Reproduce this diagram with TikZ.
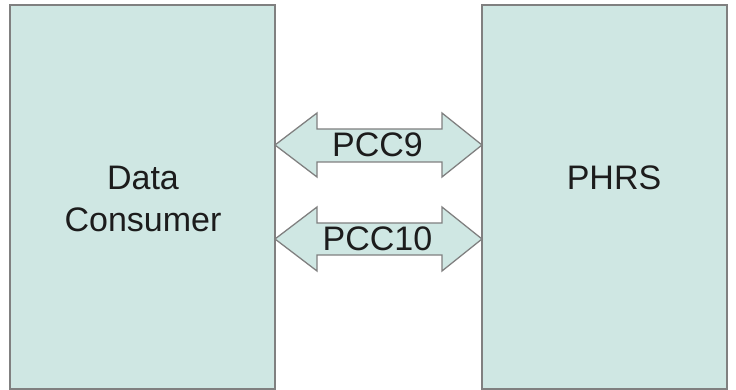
\documentclass[tikz,border=0pt]{standalone}
\usepackage{fontspec}
\setmainfont{Liberation Sans}
\definecolor{boxfill}{RGB}{207,231,227}
\definecolor{boxline}{RGB}{128,128,128}
\definecolor{textcol}{RGB}{28,28,28}
\begin{document}
\begin{tikzpicture}[x=1pt, y=-1pt,
  box/.style = {draw=boxline, fill=boxfill, line width=1.3pt, inner sep=0pt},
  arrowbox/.style = {draw=boxline, fill=boxfill, line width=1.3pt, line join=miter},
  lbl/.style = {text=textcol, align=center, font=\fontsize{34}{42}\selectfont, inner sep=0pt}]
\useasboundingbox (0,0) rectangle (736,390);
\node[box, minimum width=265pt, minimum height=384pt] (consumer) at (142.5,197) {};
\node[box, minimum width=245pt, minimum height=384pt] (phrs) at (604.5,197) {};
\node[lbl] (consumerlbl) at (143,199) {Data\\Consumer};
\node[lbl] (phrslbl) at (614,178) {PHRS};

% double arrows between the two boxes
\draw[arrowbox] (275,145) -- (317,113) -- (317,129) -- (442,129) -- (442,113) -- (482,145)
  -- (442,177) -- (442,162) -- (317,162) -- (317,177) -- cycle;
\draw[arrowbox] (275,239) -- (317,207) -- (317,223) -- (442,223) -- (442,207) -- (482,239)
  -- (442,271) -- (442,255) -- (317,255) -- (317,271) -- cycle;

\node[lbl] (pcc9) at (377.5,145) {PCC9};
\node[lbl] (pcc10) at (377.5,239) {PCC10};
\end{tikzpicture}
\end{document}
